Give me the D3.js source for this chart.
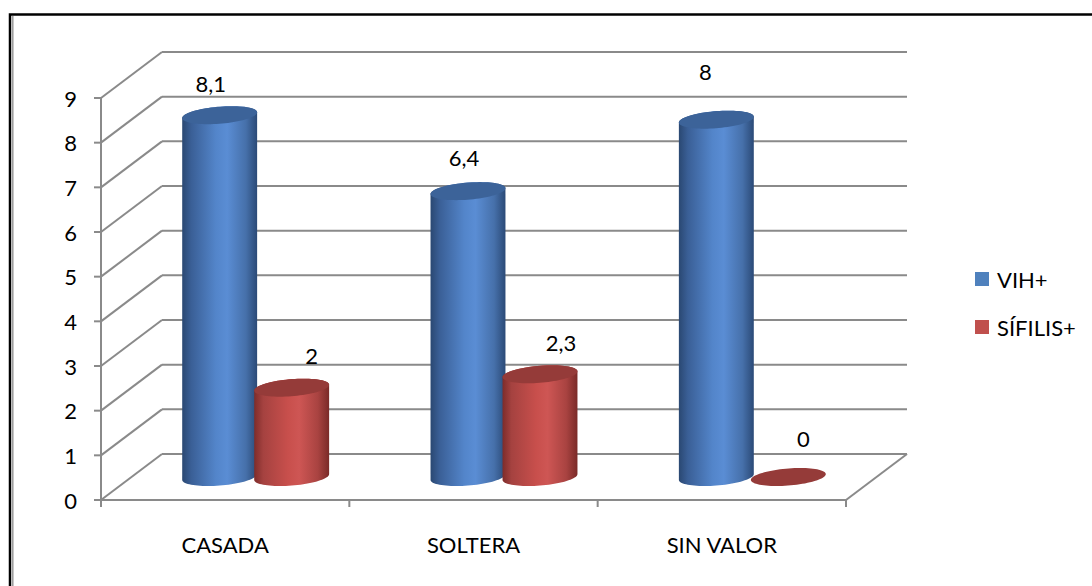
<!DOCTYPE html>
<html>
<head>
<meta charset="utf-8">
<script src="https://cdn.jsdelivr.net/npm/d3@7/dist/d3.min.js"></script>
<style>
  html, body { margin: 0; padding: 0; background: #fff; }
  svg { display: block; }
  text { font-family: Lato, "Open Sans", sans-serif; fill: #000; }
</style>
</head>
<body>
<svg id="chart" width="1092" height="586"></svg>
<script>
// Data
const categories = ["CASADA", "SOLTERA", "SIN VALOR"];
const seriesNames = ["VIH+", "SÍFILIS+"];
const vihValues = [8.1, 6.4, 8];
const sifilisValues = [2, 2.3, 0];
const yTickValues = [0, 1, 2, 3, 4, 5, 6, 7, 8, 9];

// Layout
const W = 1092, H = 586;
const plot = { left: 101, right: 846, top: 98, bottom: 500 };
const depth = { dx: 61, dy: 46 };          // screen offset of the back wall
const barHalfSpacing = 36;                 // half distance between series centres
const barRx = 35.5;                        // cylinder radius along x (px)
const barRd = 0.196;                       // cylinder radius along depth (fraction)
const fontSize = 22;
// label offsets from the centre of each cylinder top, per series / category
const labelNudge = {
  "VIH+":     [[-9, -32], [-4, -34], [-11, -48]],
  "SÍFILIS+": [[20, -32], [21, -32], [15, -39]]
};

const palette = {
  "VIH+":     { legend: "#4f81bd", top: "#3c6399",
                side: ["#2a4872", "#3a5f96", "#5385ca", "#5a8dd4", "#4670aa", "#2b4a77"] },
  "SÍFILIS+": { legend: "#c0504d", top: "#953b39",
                side: ["#7e2c2a", "#a54240", "#c84f4c", "#ce5654", "#a94341", "#7a2a28"] }
};
const gridColor = "#8a8a8a";

const series = seriesNames.map((name, i) => ({
  name, values: i === 0 ? vihValues : sifilisValues
}));

const svg = d3.select("#chart");
const defs = svg.append("defs");

// side shading of the cylinders
seriesNames.forEach((name, i) => {
  const g = defs.append("linearGradient")
    .attr("id", "side" + i).attr("x1", 0).attr("x2", 1).attr("y1", 0).attr("y2", 0);
  const stops = [0, 0.12, 0.45, 0.6, 0.85, 1];
  palette[name].side.forEach((c, k) => g.append("stop").attr("offset", stops[k]).attr("stop-color", c));
});

// outer frame
svg.append("rect").attr("x", 10).attr("y", 14.5).attr("width", W + 20).attr("height", H + 20)
  .attr("fill", "none").attr("stroke", "#000").attr("stroke-width", 2.5);
svg.append("line").attr("x1", 12.8).attr("x2", 12.8).attr("y1", 16).attr("y2", H)
  .attr("stroke", "#9a9a9a").attr("stroke-width", 1.5);

// scales
const y = d3.scaleLinear().domain([0, 9]).range([plot.bottom, plot.top]);
const x0 = d3.scaleBand().domain(categories).range([plot.left, plot.right]).padding(0);
const x1 = d3.scalePoint().domain(seriesNames).range([-barHalfSpacing, barHalfSpacing]);

// oblique projection: x (px on front plane), value, depth fraction 0..1
const project = (px, v, z) => [px + depth.dx * z, y(v) - depth.dy * z];

const grid = svg.append("g").attr("stroke", gridColor).attr("stroke-width", 2).attr("fill", "none");

// back-wall gridlines and side-wall diagonals
yTickValues.forEach(v => {
  const [bx0, by0] = project(plot.left, v, 1);
  const [bx1] = project(plot.right, v, 1);
  grid.append("line").attr("x1", bx0).attr("y1", by0).attr("x2", bx1).attr("y2", by0);
  const [fx, fy] = project(plot.left, v, 0);
  grid.append("line").attr("x1", fx).attr("y1", fy).attr("x2", bx0).attr("y2", by0);
  grid.append("line").attr("x1", fx - 7).attr("y1", fy).attr("x2", fx).attr("y2", fy);
});

// vertical axis line
grid.append("line").attr("x1", plot.left).attr("x2", plot.left)
  .attr("y1", y(9)).attr("y2", y(0));

// floor: front edge and right edge
{
  const [fx0, fy0] = project(plot.left, 0, 0);
  const [fx1, fy1] = project(plot.right, 0, 0);
  const [bx1, by1] = project(plot.right, 0, 1);
  grid.append("line").attr("x1", fx0).attr("y1", fy0).attr("x2", fx1).attr("y2", fy1);
  grid.append("line").attr("x1", fx1).attr("y1", fy1).attr("x2", bx1).attr("y2", by1);
}

// category tick marks
const catEdges = categories.map(c => x0(c)).concat([plot.right]);
catEdges.forEach(xe => {
  grid.append("line").attr("x1", xe).attr("x2", xe).attr("y1", y(0)).attr("y2", y(0) + 7);
});

// y tick labels
svg.append("g").selectAll("text").data(yTickValues).join("text")
  .attr("x", plot.left - 24).attr("y", d => y(d))
  .attr("text-anchor", "end").attr("dominant-baseline", "central")
  .attr("font-size", fontSize).text(d => d);

// category labels
svg.append("g").selectAll("text").data(categories).join("text")
  .attr("x", d => x0(d) + x0.bandwidth() / 2).attr("y", 544)
  .attr("text-anchor", "middle").attr("dominant-baseline", "central")
  .attr("font-size", fontSize).text(d => d);

// cylinder geometry
function ellipsePoint(cx, v, t) {
  return project(cx + barRx * Math.cos(t), v, 0.5 + barRd * Math.sin(t));
}
function arc(cx, v, t0, t1, n = 40) {
  const pts = [];
  for (let k = 0; k <= n; k++) pts.push(ellipsePoint(cx, v, t0 + (t1 - t0) * k / n));
  return pts;
}
const tRight = Math.atan2(depth.dx * barRd, barRx);
const tLeft = tRight + Math.PI;

const fmt = d3.formatLocale({ decimal: ",", thousands: ".", grouping: [3], currency: ["", ""] }).format("~g");
const line = d3.line();

const bars = svg.append("g");
categories.forEach((cat, ci) => {
  series.forEach((s, si) => {
    const v = s.values[ci];
    const cx = x0(cat) + x0.bandwidth() / 2 + x1(s.name);
    const g = bars.append("g");
    if (v > 0) {
      const body = arc(cx, 0, tLeft, tRight + 2 * Math.PI)
        .concat(arc(cx, v, tRight, tLeft));
      g.append("path").attr("d", line(body) + "Z").attr("fill", `url(#side${si})`);
    }
    const top = arc(cx, v, 0, 2 * Math.PI, 80);
    g.append("path").attr("d", line(top) + "Z").attr("fill", palette[s.name].top);
  });
});

// value labels
const labels = svg.append("g");
categories.forEach((cat, ci) => {
  series.forEach(s => {
    const v = s.values[ci];
    const cx = x0(cat) + x0.bandwidth() / 2 + x1(s.name);
    const [tx, ty] = project(cx, v, 0.5);
    const [ndx, ndy] = labelNudge[s.name][ci];
    labels.append("text")
      .attr("x", tx + ndx).attr("y", ty + ndy)
      .attr("text-anchor", "middle").attr("dominant-baseline", "central")
      .attr("font-size", fontSize).text(fmt(v));
  });
});

// legend
const legend = svg.append("g").attr("transform", "translate(975,272)");
seriesNames.forEach((name, i) => {
  const row = legend.append("g").attr("transform", `translate(0,${i * 48})`);
  row.append("rect").attr("width", 14).attr("height", 14).attr("fill", palette[name].legend);
  row.append("text").attr("x", 22).attr("y", 7.5).attr("dominant-baseline", "central")
    .attr("font-size", fontSize).text(name);
});
</script>
</body>
</html>
